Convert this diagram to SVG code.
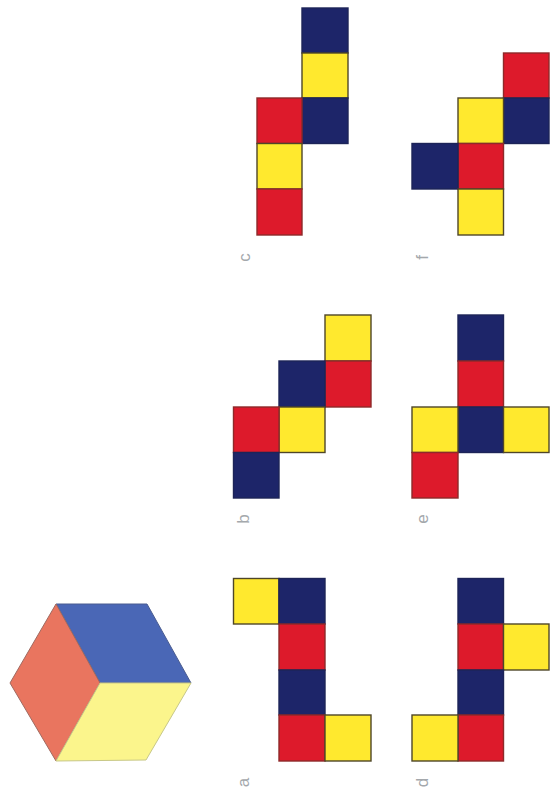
<svg xmlns="http://www.w3.org/2000/svg" width="550" height="795" viewBox="0 0 550 795">
<style>
.n{fill:#1d2569;stroke:#1d2458}
.r{fill:#dd1a2b;stroke:#8e2a2a}
.y{fill:#ffe92e;stroke:#4f4628}
rect{stroke-width:1.4}
.l{font-family:"Liberation Sans",Arial,sans-serif;font-size:17px;fill:#a4a8ac;text-anchor:middle}
</style>
<rect width="550" height="795" fill="#fff" style="stroke:none"/>
<g id="cube">
<polygon points="56,604 147,604 191,683 100,683" fill="#4a67b6" stroke="#4a5c90"/>
<polygon points="56,604 100,683 56,761 10,683" fill="#e9755f" stroke="#a06a60"/>
<polygon points="100,683 191,683 146,760 56,761" fill="#fbf58c" stroke="#c8c888"/>
</g>
<g id="net-a">
<rect class="y" x="233.500" y="578.500" width="45.500" height="45.500"/>
<rect class="n" x="279" y="578.500" width="46" height="45.500"/>
<rect class="r" x="279" y="624" width="46" height="46"/>
<rect class="n" x="279" y="670" width="46" height="45"/>
<rect class="r" x="279" y="715" width="46" height="46"/>
<rect class="y" x="325" y="715" width="46" height="46"/>
<text class="l" transform="translate(249 782.500) rotate(-90)">a</text>
</g>
<g id="net-d">
<rect class="n" x="458" y="578.500" width="45.500" height="45.500"/>
<rect class="r" x="458" y="624" width="45.500" height="46"/>
<rect class="y" x="503.500" y="624" width="45.500" height="46"/>
<rect class="n" x="458" y="670" width="45.500" height="45"/>
<rect class="r" x="458" y="715" width="45.500" height="46"/>
<rect class="y" x="412" y="715" width="46" height="46"/>
<text class="l" transform="translate(428 782.500) rotate(-90)">d</text>
</g>
<g id="net-b">
<rect class="y" x="325" y="315" width="46" height="46"/>
<rect class="r" x="325" y="361" width="46" height="46"/>
<rect class="n" x="279" y="361" width="46" height="46"/>
<rect class="y" x="279" y="407" width="46" height="45.500"/>
<rect class="r" x="233.500" y="407" width="45.500" height="45.500"/>
<rect class="n" x="233.500" y="452.500" width="45.500" height="45.500"/>
<text class="l" transform="translate(249 519) rotate(-90)">b</text>
</g>
<g id="net-e">
<rect class="n" x="458" y="315" width="45.500" height="46"/>
<rect class="r" x="458" y="361" width="45.500" height="46"/>
<rect class="n" x="458" y="407" width="45.500" height="45.500"/>
<rect class="y" x="412" y="407" width="46" height="45.500"/>
<rect class="y" x="503.500" y="407" width="45.500" height="45.500"/>
<rect class="r" x="412" y="452.500" width="46" height="45.500"/>
<text class="l" transform="translate(428 519) rotate(-90)">e</text>
</g>
<g id="net-c">
<rect class="n" x="302" y="8" width="46" height="45"/>
<rect class="y" x="302" y="53" width="46" height="45"/>
<rect class="n" x="302" y="98" width="46" height="45.500"/>
<rect class="r" x="257" y="98" width="45" height="45.500"/>
<rect class="y" x="257" y="143.500" width="45" height="45.500"/>
<rect class="r" x="257" y="189" width="45" height="46"/>
<text class="l" transform="translate(250 257.500) rotate(-90)">c</text>
</g>
<g id="net-f">
<rect class="r" x="503.500" y="53" width="45.500" height="45"/>
<rect class="n" x="503.500" y="98" width="45.500" height="45.500"/>
<rect class="y" x="458" y="98" width="45.500" height="45.500"/>
<rect class="r" x="458" y="143.500" width="45.500" height="45.500"/>
<rect class="n" x="412" y="143.500" width="46" height="45.500"/>
<rect class="y" x="458" y="189" width="45.500" height="46"/>
<text class="l" transform="translate(428 257.500) rotate(-90)">f</text>
</g>
</svg>
